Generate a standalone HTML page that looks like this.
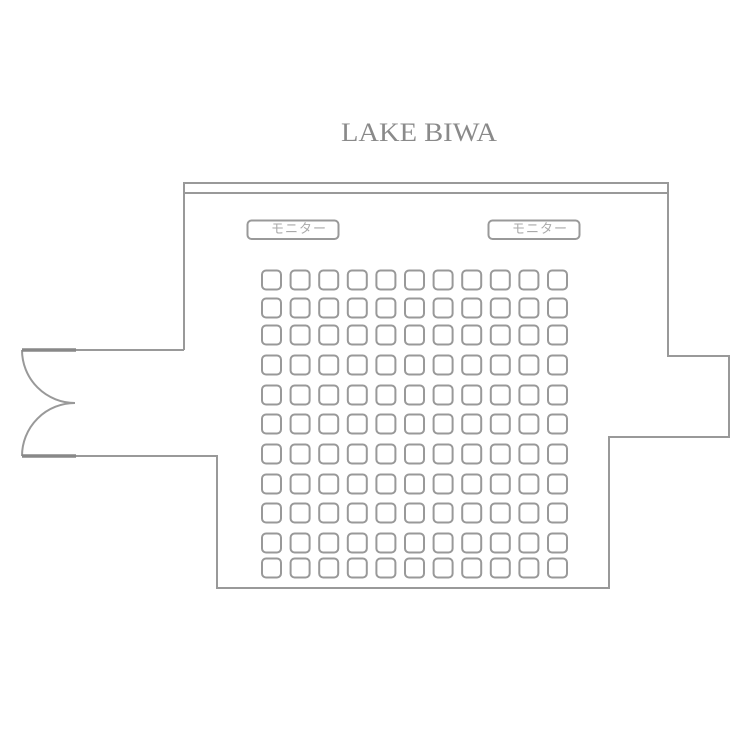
<!DOCTYPE html>
<html><head><meta charset="utf-8"><style>html,body{margin:0;padding:0;background:#fff}svg{display:block}</style></head>
<body>
<svg width="750" height="750" viewBox="0 0 750 750" xmlns="http://www.w3.org/2000/svg">
<defs>
<g id="row" fill="none" stroke="#999" stroke-width="2">
<rect x="262" y="0" width="19" height="19" rx="4"/>
<rect x="290.6" y="0" width="19" height="19" rx="4"/>
<rect x="319.2" y="0" width="19" height="19" rx="4"/>
<rect x="347.8" y="0" width="19" height="19" rx="4"/>
<rect x="376.4" y="0" width="19" height="19" rx="4"/>
<rect x="405" y="0" width="19" height="19" rx="4"/>
<rect x="433.6" y="0" width="19" height="19" rx="4"/>
<rect x="462.2" y="0" width="19" height="19" rx="4"/>
<rect x="490.8" y="0" width="19" height="19" rx="4"/>
<rect x="519.4" y="0" width="19" height="19" rx="4"/>
<rect x="548" y="0" width="19" height="19" rx="4"/>
</g>
</defs>
<rect width="750" height="750" fill="#fff"/>
<text x="419" y="141" text-anchor="middle" font-family="'Liberation Serif',serif" font-size="26" fill="#8a8a8a" textLength="156" lengthAdjust="spacingAndGlyphs">LAKE BIWA</text>
<g fill="none" stroke="#999" stroke-width="2">
<path d="M184 350 V183 H668 V356 H729 V437 H609 V588 H217 V456 H22"/>
<path d="M184 350 H22"/>
<line x1="184" y1="193" x2="668" y2="193"/>
<path d="M22 350 A53 53 0 0 0 75 403 A53 53 0 0 0 22 456"/>
<rect x="247.5" y="220.5" width="91" height="18.5" rx="4"/>
<rect x="488.5" y="220.5" width="91" height="18.5" rx="4"/>
</g>
<g stroke="#888" stroke-width="3.5"><line x1="22" y1="350" x2="76" y2="350"/><line x1="22" y1="456" x2="76" y2="456"/></g>
<g font-family="'Liberation Sans','Noto Sans CJK JP',sans-serif" font-size="13" fill="#aaa" letter-spacing="1">
<text x="299" y="233" text-anchor="middle">モニター</text>
<text x="540" y="233" text-anchor="middle">モニター</text>
</g>
<use href="#row" y="270.5"/>
<use href="#row" y="298.5"/>
<use href="#row" y="325.5"/>
<use href="#row" y="355.5"/>
<use href="#row" y="385.5"/>
<use href="#row" y="414.5"/>
<use href="#row" y="444.5"/>
<use href="#row" y="474.5"/>
<use href="#row" y="503.5"/>
<use href="#row" y="533.5"/>
<use href="#row" y="558.5"/>
</svg>
</body></html>
